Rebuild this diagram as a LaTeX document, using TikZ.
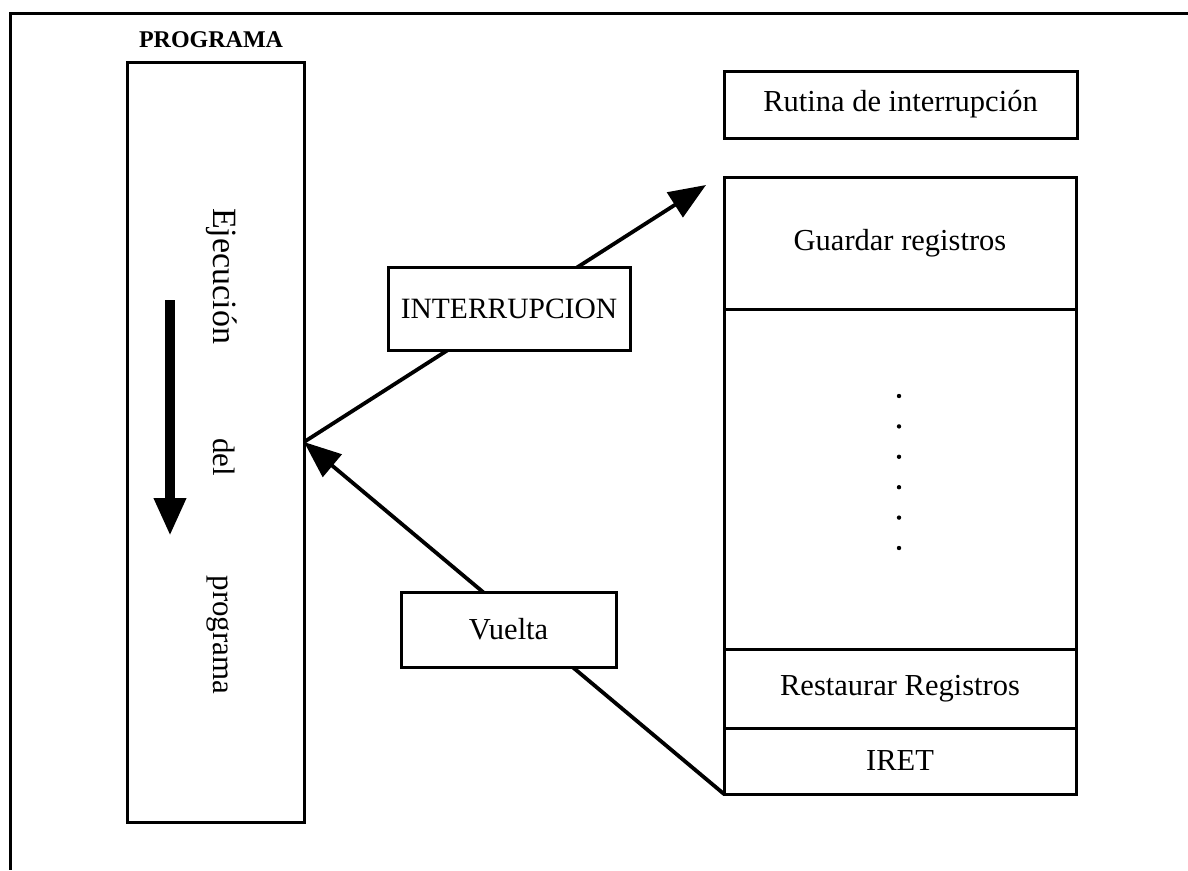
\documentclass[tikz,border=0pt]{standalone}
\usepackage{fontspec}
\setmainfont{Liberation Serif}
\usetikzlibrary{arrows.meta}

\begin{document}
\begin{tikzpicture}[x=1pt,y=-1pt,
  frame/.style={draw=black,line width=3pt,fill=white,inner sep=0pt,outer sep=0pt},
  txt/.style={font=\fontsize{30.5}{34}\selectfont},
  vtxt/.style={font=\fontsize{31}{35}\selectfont,rotate=-90,anchor=base},
  link/.style={line width=3.8pt,-{Triangle[length=37pt,width=29pt]}}]

  \useasboundingbox (0,0) rectangle (1188,870);

  % outer frame (only the top and left edges fall inside the page)
  \draw[line width=3pt] (1188,13) -- (10,13) -- (10,870);

  % program column
  \node[font=\bfseries\fontsize{24}{28}\selectfont] (title) at (211,40) {PROGRAMA};
  \node[frame,minimum width=177pt,minimum height=760pt] (prog) at (215.5,442) {};
  \coordinate (flowtop) at (170,300);
  \coordinate (flowend) at (170,536);
  \draw[line width=9.5pt,-{Triangle[length=38pt,width=30pt]}] (flowtop) -- (flowend);
  \node[vtxt,font=\fontsize{34}{38}\selectfont] (v1) at (213,276) {Ejecución};
  \node[vtxt] (v2) at (213,457) {del};
  \node[vtxt] (v3) at (213,635) {programa};

  % interrupt routine
  \node[frame,txt,minimum width=353pt,minimum height=67pt] (rutina) at (900.5,104.5) {Rutina de interrupción};
  \node[frame,txt,minimum width=352pt,minimum height=132pt] (guardar) at (900,243) {Guardar registros};
  \node[frame,minimum width=352pt,minimum height=340pt] (cuerpo) at (900,479) {};
  \node[frame,txt,minimum width=352pt,minimum height=79pt] (restaurar) at (900,688.5) {Restaurar Registros};
  \node[frame,txt,minimum width=352pt,minimum height=66pt] (iret) at (900,761) {IRET};
  \foreach \k in {0,...,5}
    \fill (899,{396+30.4*\k}) circle (2.2pt);

  % jumps between program and routine
  \coordinate (entry) at (706,185);
  \draw[link] (prog.east) -- (entry);
  \draw[link] (iret.south west) -- (prog.east);

  \node[frame,txt,font=\fontsize{29.5}{33}\selectfont,minimum width=242pt,minimum height=83pt] (irq) at (509,308.5) {INTERRUPCION};
  \node[frame,txt,minimum width=215pt,minimum height=75pt] (vuelta) at (508.5,629.5) {Vuelta};
\end{tikzpicture}
\end{document}
